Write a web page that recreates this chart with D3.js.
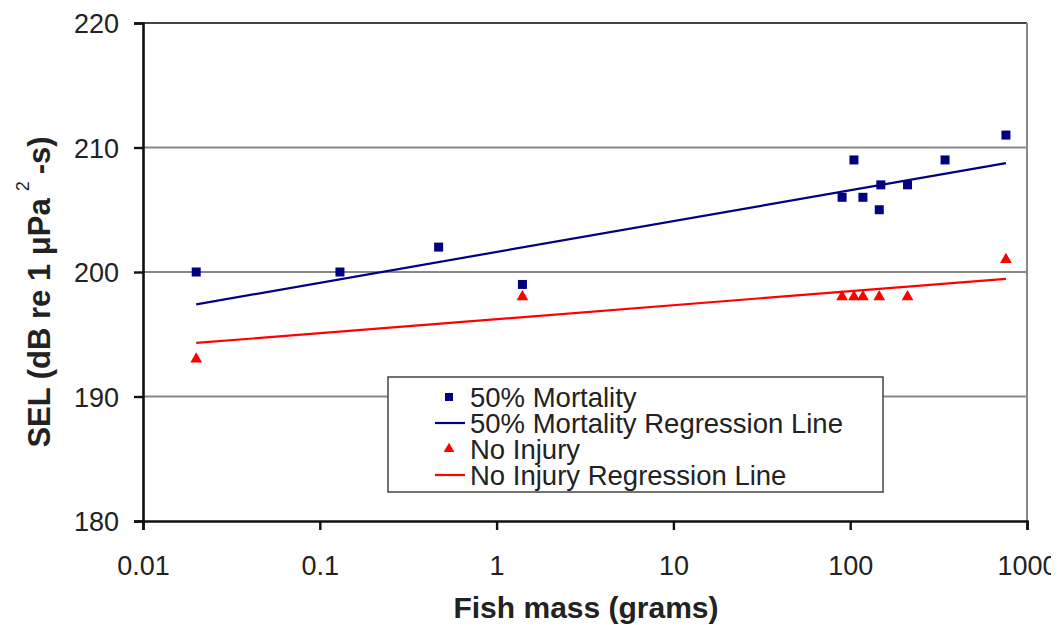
<!DOCTYPE html>
<html lang="en">
<head>
  <meta charset="UTF-8">
  <title>SEL vs fish mass</title>
  <script src="https://cdn.jsdelivr.net/npm/d3@7"></script>
  <style>
    body { margin: 0; background: #fff; }
    svg { display: block; font-family: "Liberation Sans", Arial, sans-serif; }
  </style>
</head>
<body>
<div id="chart"></div>
<script>
// values
const mortalityMass = [0.02, 0.13, 0.47, 1.4, 90, 105, 118, 146, 149, 211, 344, 760];
const mortalitySEL = [200, 200, 202, 199, 206, 209, 206, 205, 207, 207, 209, 211];
const noInjuryMass = [0.02, 1.4, 90, 105, 118, 146, 211, 760];
const noInjurySEL = [193, 198, 198, 198, 198, 198, 198, 201];
// regression lines (end points)
const mortalityFitMass = [0.02, 760];
const mortalityFitSEL = [197.4, 208.75];
const noInjuryFitMass = [0.02, 760];
const noInjuryFitSEL = [194.3, 199.45];

const xTicks = [0.01, 0.1, 1, 10, 100, 1000];
const yTicks = [180, 190, 200, 210, 220];
const legendLabels = ["50% Mortality", "50% Mortality Regression Line", "No Injury", "No Injury Regression Line"];

const blue = "#000080", red = "#ff0000";
const width = 1051, height = 625;
const margin = { top: 23, right: 24, bottom: 104, left: 143 };

const svg = d3.select("#chart").append("svg")
  .attr("width", width)
  .attr("height", height);

const x = d3.scaleLog()
  .domain([0.01, 1000])
  .range([margin.left, width - margin.right]);
const y = d3.scaleLinear()
  .domain([180, 220])
  .range([height - margin.bottom, margin.top]);

// grid lines
svg.append("g")
  .selectAll("line")
  .data(yTicks.filter(d => d > 180))
  .join("line")
  .attr("x1", margin.left)
  .attr("x2", width - margin.right)
  .attr("y1", d => y(d))
  .attr("y2", d => y(d))
  .attr("stroke", d => d === 220 ? "#444" : "#888")
  .attr("stroke-width", 2.2);

// right border
svg.append("line")
  .attr("x1", width - margin.right).attr("x2", width - margin.right)
  .attr("y1", margin.top).attr("y2", height - margin.bottom)
  .attr("stroke", "#888").attr("stroke-width", 2);

// axes
const xAxis = d3.axisBottom(x)
  .tickValues(xTicks)
  .tickSize(9)
  .tickPadding(26)
  .tickFormat(d => String(d));
const yAxis = d3.axisLeft(y)
  .tickValues(yTicks)
  .tickSize(9)
  .tickPadding(15)
  .tickFormat(d3.format("d"));

const xAxisG = svg.append("g")
  .attr("transform", `translate(0,${y(180)})`)
  .call(xAxis);
const yAxisG = svg.append("g")
  .attr("transform", `translate(${x(0.01)},0)`)
  .call(yAxis);

[xAxisG, yAxisG].forEach(g => {
  g.select(".domain").attr("stroke", "#111").attr("stroke-width", 2.6);
  g.selectAll(".tick line").attr("stroke", "#111").attr("stroke-width", 2.4);
  g.selectAll(".tick text")
    .attr("fill", "#222")
    .style("font-size", "27px")
    .style("font-family", "'Liberation Sans', Arial, sans-serif");
});
yAxisG.selectAll(".tick text").attr("dy", "0.36em");

// regression lines
const line = d3.line().x(d => x(d[0])).y(d => y(d[1]));
svg.append("path")
  .datum(d3.zip(mortalityFitMass, mortalityFitSEL))
  .attr("d", line)
  .attr("fill", "none")
  .attr("stroke", blue)
  .attr("stroke-width", 2.2);
svg.append("path")
  .datum(d3.zip(noInjuryFitMass, noInjuryFitSEL))
  .attr("d", line)
  .attr("fill", "none")
  .attr("stroke", red)
  .attr("stroke-width", 2.2);

// points
const tri = d3.symbol().type(d3.symbolTriangle).size(60);
svg.append("g")
  .selectAll("path")
  .data(d3.zip(noInjuryMass, noInjurySEL))
  .join("path")
  .attr("d", tri)
  .attr("transform", d => `translate(${x(d[0])},${y(d[1])})`)
  .attr("fill", red);

svg.append("g")
  .selectAll("rect")
  .data(d3.zip(mortalityMass, mortalitySEL))
  .join("rect")
  .attr("x", d => x(d[0]) - 4.5)
  .attr("y", d => y(d[1]) - 4.5)
  .attr("width", 9)
  .attr("height", 9)
  .attr("fill", blue);

// legend
const legend = svg.append("g").attr("transform", "translate(388,377)");
legend.append("rect")
  .attr("width", 495)
  .attr("height", 115)
  .attr("fill", "#fff")
  .attr("stroke", "#444")
  .attr("stroke-width", 1.5);

const rows = legend.selectAll("g.row")
  .data(legendLabels)
  .join("g")
  .attr("class", "row")
  .attr("transform", (d, i) => `translate(0,${20 + i * 26})`);

rows.append("text")
  .attr("x", 82)
  .attr("dy", "0.36em")
  .attr("fill", "#222")
  .style("font-size", "27.5px")
  .text(d => d);

rows.filter((d, i) => i === 0).append("rect")
  .attr("x", 57).attr("y", -4).attr("width", 8).attr("height", 8).attr("fill", blue);
rows.filter((d, i) => i === 1 || i === 3).append("line")
  .attr("x1", 47).attr("x2", 77)
  .attr("stroke", (d, i) => i === 0 ? blue : red)
  .attr("stroke-width", 2.2);
rows.filter((d, i) => i === 2).append("path")
  .attr("d", d3.symbol().type(d3.symbolTriangle).size(50))
  .attr("transform", "translate(61,0)")
  .attr("fill", red);

// axis titles
svg.append("text")
  .attr("x", 586)
  .attr("y", 618)
  .attr("text-anchor", "middle")
  .attr("fill", "#222")
  .style("font-size", "30px")
  .style("font-weight", "bold")
  .text("Fish mass (grams)");

const yTitle = svg.append("text")
  .attr("transform", "translate(50,292) rotate(-90)")
  .attr("text-anchor", "middle")
  .attr("fill", "#222")
  .style("font-size", "31px")
  .style("font-weight", "bold");
yTitle.append("tspan").text("SEL (dB re 1 μPa");
yTitle.append("tspan").attr("dx", 7).attr("dy", -21).style("font-size", "18px").style("font-weight", "normal").text("2");
yTitle.append("tspan").attr("dx", 7).attr("dy", 21).text("-s)");
</script>
</body>
</html>
